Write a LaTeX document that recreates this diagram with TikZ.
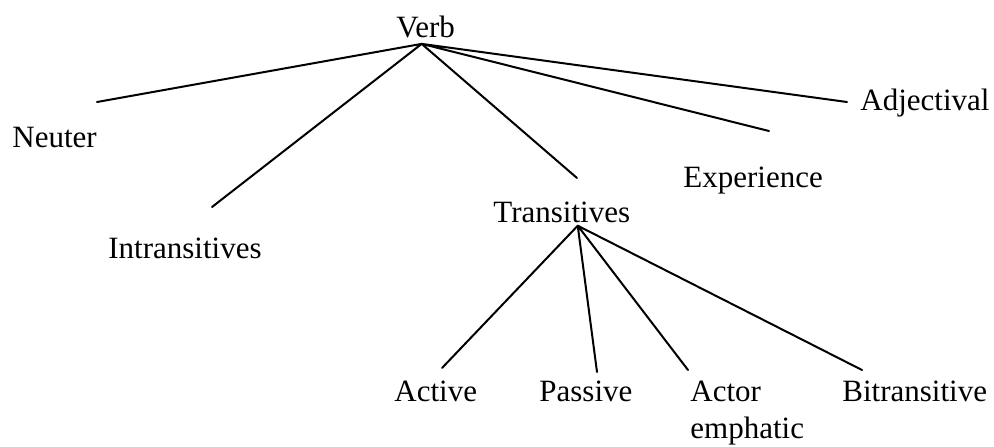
\documentclass[tikz,border=0pt]{standalone}
\usepackage{fontspec}
\setmainfont{Liberation Serif}
\tikzset{
    x=0.5pt, y=-0.5pt, % one unit is one pixel of the page, measured from the top
    every node/.style={inner sep=0pt, font=\fontsize{15.5}{18.5}\selectfont}, % plain labels, no frame
    word/.style={anchor=base west}, % a label sits on its baseline
    branch/.style={line width=1pt, line cap=round}, % the lines of the tree
}
\begin{document}
\begin{tikzpicture}
    \useasboundingbox (0,0) rectangle (994,446);
    % labels
    \node[word] (verb) at (396,37) {Verb};
    \node[word] (neuter) at (12,147) {Neuter};
    \node[word] (intrans) at (108,258) {Intransitives};
    \node[word] (trans) at (493,222) {Transitives};
    \node[word] (exper) at (683,187) {Experience};
    \node[word] (adject) at (860,110) {Adjectival};
    \node[word] (active) at (394,401) {Active};
    \node[word] (passive) at (539,401) {Passive};
    \node[anchor=north west, align=left] (actor) at (690,381) {Actor\\emphatic};
    \node[word] (bitrans) at (842,401) {Bitransitive};
    % where the lines meet and end
    \coordinate (verb root) at ([xshift=-2pt,yshift=-3pt]verb.south);
    \coordinate (trans root) at ([xshift=8pt,yshift=-1.5pt]trans.south);
    \coordinate (neuter end) at (97,102);
    \coordinate (intrans end) at (212,207);
    \coordinate (trans end) at (577,178);
    \coordinate (exper end) at (769,131);
    \coordinate (adject end) at (847,102);
    \coordinate (active end) at (442,368);
    \coordinate (passive end) at (597,372);
    \coordinate (actor end) at (688,370);
    \coordinate (bitrans end) at (862,370);
    \draw[branch] (verb root) -- (neuter end)
        (verb root) -- (intrans end)
        (verb root) -- (trans end)
        (verb root) -- (exper end)
        (verb root) -- (adject end);
    \draw[branch] (trans root) -- (active end)
        (trans root) -- (passive end)
        (trans root) -- (actor end)
        (trans root) -- (bitrans end);
\end{tikzpicture}
\end{document}
